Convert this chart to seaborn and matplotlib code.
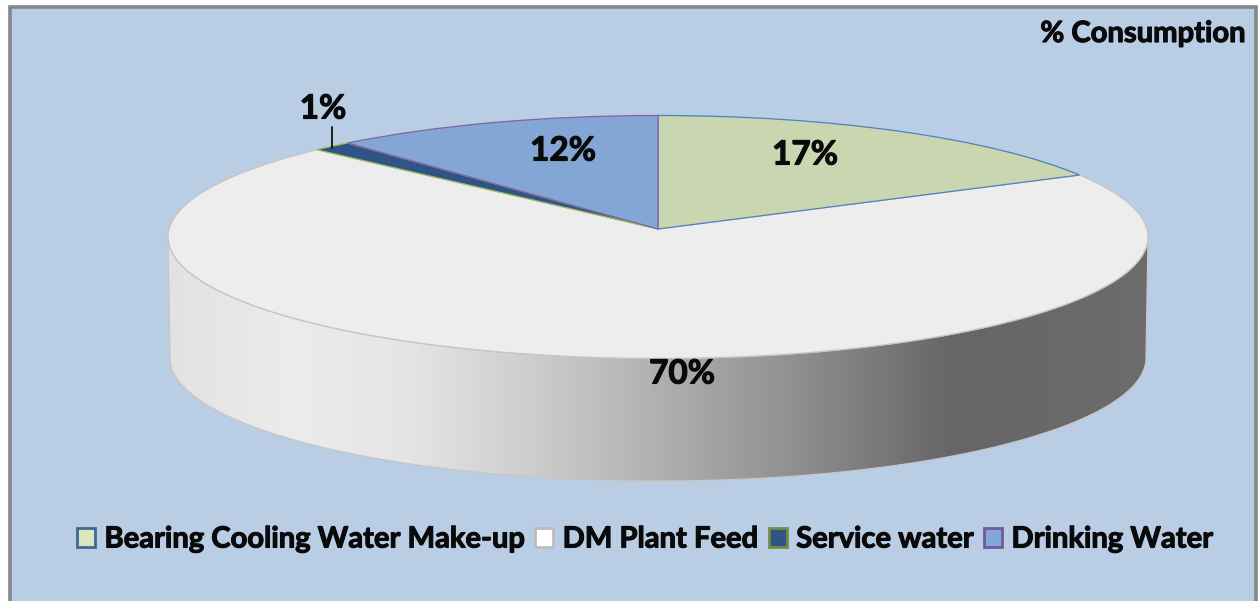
import numpy as np
import matplotlib
matplotlib.use("Agg")
import matplotlib.pyplot as plt
import matplotlib.patheffects as pe
import seaborn as sns
from matplotlib.colors import LinearSegmentedColormap
from matplotlib.patches import Patch, Polygon, Rectangle

categories = ["Bearing Cooling Water Make-up", "DM Plant Feed", "Service water", "Drinking Water"]
values = [17.4, 69.6, 1.4, 11.6]
title = "% Consumption"
top_colors = ["#C9D6AF", "#EDEDED", "#2F5586", "#84A6D4"]
edge_colors = ["#4F81BD", "#C4C4C4", "#9BBB59", "#8064A2"]
legend_fills = ["#DCE6BE", "#FFFFFF", "#2F5586", "#84A6D4"]
legend_edges = ["#3F6797", "#BDBDBD", "#6E8F45", "#6E5A9C"]
wall_stops = [(0.0, "#E2E2E2"), (0.13, "#ECECEC"), (0.25, "#E4E4E4"), (0.37, "#CDCDCD"),
              (0.5, "#B0B0B0"), (0.63, "#929292"), (0.8, "#666666"), (1.0, "#6C6C6C")]

W, H = 1258, 601
CX, CY, RX, RY = 658, 237, 490, 121.5

sns.set_theme(style="white")
plt.rcParams["font.family"] = ["Lato", "DejaVu Sans"]
plt.rcParams["font.weight"] = "bold"

fig = plt.figure(figsize=(W / 100, H / 100), dpi=100, facecolor="white")
ax = fig.add_axes([0, 0, 1, 1])


def dx(px):
    return (np.asarray(px, dtype=float) - CX) / RX


def dy(py):
    return (CY - np.asarray(py, dtype=float)) / RY


wedges, _ = ax.pie(values, colors=top_colors, startangle=90, counterclock=False, radius=1,
                   wedgeprops=dict(linewidth=0.9, zorder=4))
ax.set_aspect("auto")
ax.set_xlim(dx(0), dx(W))
ax.set_ylim(dy(H), dy(0))
ax.axis("on")
ax.set_xticks([])
ax.set_yticks([])
for s in ax.spines.values():
    s.set_visible(False)

# perspective of the top surface: the disc maps onto itself, its centre moves up to the apex
a = float(dy(229))
for w, ec in zip(wedges, edge_colors):
    w.set_edgecolor(ec)
    v = w.get_path().vertices
    d = 1 + a * v[:, 1]
    nx = v[:, 0] * np.sqrt(1 - a * a) / d
    ny = (v[:, 1] + a) / d
    v[:, 0], v[:, 1] = nx, ny
wedges[1].set_zorder(3.5)

# background panel
ax.add_patch(Rectangle((dx(10), dy(620)), dx(1256) - dx(10), dy(7) - dy(620),
                       facecolor="#B9CDE5", edgecolor="#868686", linewidth=2.6, zorder=0))

# side wall with horizontal gradient
t = np.linspace(0, np.pi, 200)
low_x = CX - 488 * np.cos(t)
low_y = 358 + 123 * np.sin(t)
top_x = CX + RX * np.cos(t)
top_y = CY + RY * np.sin(t)
wall_xy = np.column_stack([dx(np.r_[low_x, top_x]), dy(np.r_[low_y, top_y])])
wall = Polygon(wall_xy, closed=True, facecolor="none", edgecolor="#C6C6C6", linewidth=0.9, zorder=3)
ax.add_patch(wall)
cmap = LinearSegmentedColormap.from_list("wall", wall_stops)
im = ax.imshow(np.linspace(0, 1, 512)[None, :], cmap=cmap, aspect="auto", zorder=2,
               extent=(dx(168), dx(1148), dy(485), dy(230)), origin="upper")
im.set_clip_path(wall)
ax.set_aspect("auto")
ax.set_xlim(dx(0), dx(W))
ax.set_ylim(dy(H), dy(0))

thick = [pe.withStroke(linewidth=0.8, foreground="#0A0A0A")]

# data labels
label_px = [(805, 155), (682, 374), (323, 109), (563, 151)]
for v, (x, y) in zip(values, label_px):
    ax.text(dx(x), dy(y), f"{round(v)}%", ha="center", va="center", fontsize=24,
            fontweight="bold", color="#0A0A0A", zorder=6, path_effects=thick)
ax.plot(dx([332, 332]), dy([127, 148]), color="#111111", lw=1.3, zorder=6)
ax.text(dx(1245), dy(34), title, ha="right", va="center", fontsize=21,
        fontweight="bold", color="#0A0A0A", zorder=6, path_effects=thick)

handles = [Patch(facecolor=f, edgecolor=e, linewidth=2) for f, e in zip(legend_fills, legend_edges)]
leg = ax.legend(handles, categories, ncol=4, loc="center", bbox_to_anchor=(645 / W, 1 - 539.5 / H),
                frameon=False, handlelength=0.62, handleheight=0.62,
                handletextpad=0.32, columnspacing=0.36, borderpad=0, labelcolor="#0A0A0A",
                prop=dict(family="Lato", weight="bold", size=21))
for txt in leg.get_texts():
    txt.set_path_effects(thick)

fig.savefig("out.png", dpi=100, facecolor="white")
